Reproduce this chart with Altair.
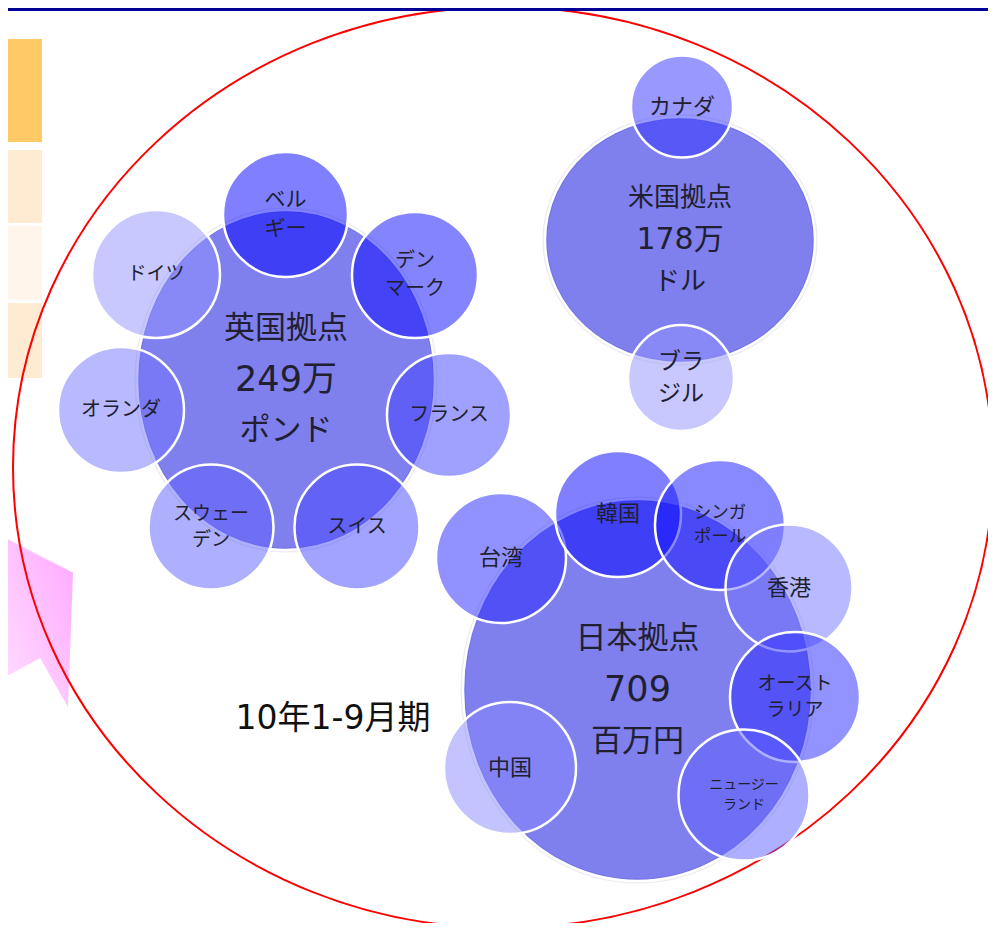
import altair as alt
import pandas as pd

FONT = "Noto Sans CJK JP"
NUM_FONT = "DejaVu Sans, Noto Sans CJK JP"

# ---- regional bases (large ellipses) ----
base_title = ["英国拠点", "米国拠点", "日本拠点"]
base_value = ["249万", "178万", "709"]
base_unit = ["ポンド", "ドル", "百万円"]
base_cx = [286, 680, 637.5]
base_cy = [380, 240, 690]
base_rx = [149, 135, 174.5]
base_ry = [170, 123, 191]
base_gap = [51, 42, 51.5]
base_font = [31, 26, 31]
base_num_font = [35, 30, 35]

# ---- countries under each base (small circles) ----
c_lines = [["ベル", "ギー"], ["デン", "マーク"], ["ドイツ"], ["オランダ"], ["フランス"], ["スウェー", "デン"], ["スイス"],
           ["カナダ"], ["ブラ", "ジル"],
           ["台湾"], ["韓国"], ["シンガ", "ポール"], ["香港"], ["オースト", "ラリア"], ["ニュージー", "ランド"], ["中国"]]
c_cx = [285.5, 415, 156, 121, 449, 211, 357, 682, 681, 501, 618, 720, 789, 795, 744, 510]
c_cy = [214.5, 275, 274, 410, 415, 527, 527, 106.5, 378, 558, 514, 525, 588, 697, 795, 768]
c_d = [125, 126, 128, 126, 124, 125, 125, 102, 106, 130, 126, 130, 127, 130, 131, 132]
c_tint = [0, 10, 145, 115, 65, 95, 70, 50, 145, 35, 0, 20, 115, 40, 95, 135]
c_font = [21, 20, 19, 20, 20, 19, 20, 22, 23, 22, 22, 17.5, 22, 19, 14, 22]
c_gap = [29, 28, 0, 0, 0, 26.5, 0, 0, 32, 0, 0, 24, 0, 26, 19.5, 0]

# ---- period caption ----
period_text = ["10年1-9月期"]
period_x = [333]
period_y = [719]

# ---- left-side decorations ----
side_y = [39, 150, 226, 303]
side_y2 = [142, 223, 300, 378]
side_color = ["#ffc966", "#ffebd2", "#fff5ea", "#ffebd2"]
side_x = [0, 0, 0, 0]
side_x2 = [42, 42, 42, 42]

arrow_x = [0, 40, 68, 73]
arrow_top = [535, 556, 570, 573]
arrow_bottom = [680, 658, 707, 573]

# big red ellipse
ring_cx = [503]
ring_cy = [467.5]
ring_rx = [490]
ring_ry = [460.5]

# ---------------- build tables ----------------
def ellipse_path(rx, ry):
    k = ry / rx
    return f"M -1 0 A 1 {k:.4f} 0 1 1 1 0 A 1 {k:.4f} 0 1 1 -1 0 Z"

base_df = pd.DataFrame({
    "x": base_cx, "y": base_cy,
    "shape": [ellipse_path(a, b) for a, b in zip(base_rx, base_ry)],
    "size": [(2 * a) ** 2 for a in base_rx],
})

circ_df = pd.DataFrame({
    "x": c_cx, "y": c_cy,
    "size": [d ** 2 for d in c_d],
    "col": [f"rgb({v},{v},255)" for v in c_tint],
})

word_rows, num_rows = [], []
for i in range(3):
    word_rows.append({"x": base_cx[i], "y": base_cy[i] - base_gap[i], "text": base_title[i], "fs": base_font[i]})
    word_rows.append({"x": base_cx[i], "y": base_cy[i] + base_gap[i], "text": base_unit[i], "fs": base_font[i]})
    num_rows.append({"x": base_cx[i], "y": base_cy[i], "text": base_value[i], "fs": base_num_font[i]})
word_df = pd.DataFrame(word_rows)
num_df = pd.DataFrame(num_rows)

# multi-line labels: the first line sits at y, so lift the block by half its height
small_df = pd.DataFrame({
    "x": c_cx,
    "y": [cy - (len(l) - 1) * g / 2 for cy, l, g in zip(c_cy, c_lines, c_gap)],
    "text": ["\n".join(l) for l in c_lines],
    "fs": c_font, "gap": c_gap,
})

period_df = pd.DataFrame({"x": period_x, "y": period_y, "text": period_text})
side_df = pd.DataFrame({"x": side_x, "x2": side_x2, "y": side_y, "y2": side_y2, "col": side_color})
arrow_df = pd.DataFrame({"x": arrow_x, "y": arrow_top, "y2": arrow_bottom})
ring_df = pd.DataFrame({
    "x": ring_cx, "y": ring_cy,
    "shape": [ellipse_path(a, b) for a, b in zip(ring_rx, ring_ry)],
    "size": [(2 * a) ** 2 for a in ring_rx],
})
top_df = pd.DataFrame({"x": [8], "x2": [988], "y": [8], "y2": [11]})

W, H = 980, 915
xs = alt.Scale(domain=[8, 8 + W], nice=False, zero=False)
ys = alt.Scale(domain=[8, 8 + H], nice=False, zero=False, reverse=True)
X = lambda f="x": alt.X(f"{f}:Q", scale=xs, axis=None)
Y = lambda f="y": alt.Y(f"{f}:Q", scale=ys, axis=None)

top_bar = alt.Chart(top_df).mark_rect(color="#000099").encode(
    x=X(), x2="x2", y=Y(), y2="y2")

side = alt.Chart(side_df).mark_rect().encode(
    x=X(), x2="x2", y=Y(), y2="y2", fill=alt.Fill("col:N", scale=None))

arrow = alt.Chart(arrow_df).mark_area(
    orient="vertical",
    color=alt.Gradient(gradient="linear",
                       stops=[alt.GradientStop(color="#ffe0ff", offset=0),
                              alt.GradientStop(color="#ffa8ff", offset=1)],
                       x1=0, y1=1, x2=1, y2=0)
).encode(x=X(), y=Y(), y2="y2")

ring = alt.Chart(ring_df).mark_point(filled=False, stroke="#ff0000", strokeWidth=2, opacity=1).encode(
    x=X(), y=Y(), shape=alt.Shape("shape:N", scale=None), size=alt.Size("size:Q", scale=None))

base_glow = alt.Chart(base_df).mark_point(filled=False, stroke="#ebebf0", strokeWidth=5, opacity=1).encode(
    x=X(), y=Y(), shape=alt.Shape("shape:N", scale=None), size=alt.Size("size:Q", scale=None))

base = alt.Chart(base_df).mark_point(filled=True, fill="#0000dc", fillOpacity=0.5, stroke="white",
                                    strokeWidth=2.5, opacity=1, strokeOpacity=1).encode(
    x=X(), y=Y(), shape=alt.Shape("shape:N", scale=None), size=alt.Size("size:Q", scale=None))

circles = alt.Chart(circ_df).mark_point(filled=True, shape="circle", fillOpacity=0.5, stroke="white",
                                       strokeWidth=2.5, opacity=1, strokeOpacity=1).encode(
    x=X(), y=Y(), size=alt.Size("size:Q", scale=None), fill=alt.Fill("col:N", scale=None))

TXT = "#202030"
words = alt.Chart(word_df).mark_text(font=FONT, color=TXT, align="center", baseline="middle").encode(
    x=X(), y=Y(), text="text:N", size=alt.Size("fs:Q", scale=None))
nums = alt.Chart(num_df).mark_text(font=NUM_FONT, color=TXT, align="center", baseline="middle").encode(
    x=X(), y=Y(), text="text:N", size=alt.Size("fs:Q", scale=None))

small_layers = []
for g in sorted(set(c_gap)):
    sub = small_df[small_df["gap"] == g]
    small_layers.append(
        alt.Chart(sub).mark_text(font=FONT, color=TXT, align="center", baseline="middle",
                                 lineBreak="\n", lineHeight=max(g, 1)).encode(
            x=X(), y=Y(), text="text:N", size=alt.Size("fs:Q", scale=None)))

period = alt.Chart(period_df).mark_text(font=NUM_FONT, color="#111111", fontSize=33,
                                        align="center", baseline="middle").encode(
    x=X(), y=Y(), text="text:N")

chart = alt.layer(side, arrow, ring, top_bar, base_glow, base, circles, words, nums, *small_layers, period).properties(
    width=W, height=H, padding=0,
    autosize=alt.AutoSizeParams(type="none"),
    background="white",
).configure_view(stroke=None)

chart.save("out.html", embed_options={"renderer": "svg", "actions": False})
